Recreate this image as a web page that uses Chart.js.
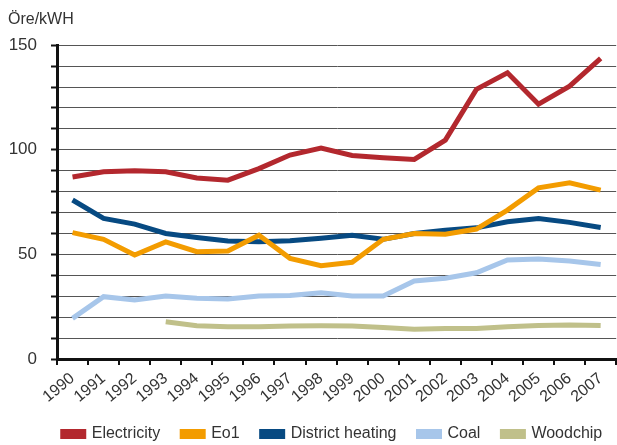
<!DOCTYPE html>
<html>
<head>
<meta charset="utf-8">
<script src="https://cdn.jsdelivr.net/npm/chart.js@4.4.1/dist/chart.umd.min.js"></script>
<style>
  html, body { margin: 0; padding: 0; background: #fff; }
  #wrap { width: 617px; height: 445px; position: relative; }
</style>
</head>
<body>
<div id="wrap"><canvas id="priceChart"></canvas></div>
<script>
const years = ['1990', '1991', '1992', '1993', '1994', '1995', '1996', '1997', '1998',
  '1999', '2000', '2001', '2002', '2003', '2004', '2005', '2006', '2007'];

const electricity = [87, 89.5, 90, 89.5, 86.5, 85.5, 91, 97.5, 100.8, 97.3, 96.2, 95.4, 104.6, 128.9, 136.8, 121.8, 130.4, 143.7];
const eo1 = [60.4, 57.2, 49.7, 56, 51.3, 51.6, 59.2, 48.1, 44.6, 46.2, 57.2, 60, 59.6, 62.1, 71.2, 81.8, 84.2, 80.7];
const districtHeating = [76, 67.2, 64.5, 60, 58.1, 56.4, 56, 56.5, 57.7, 59.2, 57.2, 60, 61.6, 62.7, 65.6, 67.2, 65.3, 62.9];
const coal = [19.4, 29.8, 28.2, 30.1, 29, 28.7, 30.1, 30.3, 31.7, 30.1, 30.1, 37.3, 38.6, 41.2, 47.3, 47.8, 46.8, 45.2];
const woodchip = [null, null, null, 17.8, 15.9, 15.4, 15.4, 15.8, 15.9, 15.8, 15.1, 14.2, 14.6, 14.6, 15.4, 16, 16.3, 16];

const yLabels = [0, 50, 100, 150];

function line(label, data, color) {
  return {
    label,
    data,
    borderColor: color,
    backgroundColor: color,
    borderWidth: 5,
    pointRadius: 0,
    fill: false,
    tension: 0,
    spanGaps: false
  };
}

const font = "'Liberation Sans', Arial, sans-serif";

// the legend in the original sits a little right of centre
const nudgeLegend = {
  id: 'nudgeLegend',
  afterLayout(chart) {
    if (chart.legend) {
      chart.legend.left += 20;
      chart.legend.right += 20;
    }
  }
};

new Chart(document.getElementById('priceChart'), {
  type: 'line',
  data: {
    labels: years,
    datasets: [
      line('Electricity', electricity, '#b3282e'),
      line('Eo1', eo1, '#f39c00'),
      line('District heating', districtHeating, '#074a82'),
      line('Coal', coal, '#a7c6ea'),
      line('Woodchip', woodchip, '#c0c08a')
    ]
  },
  plugins: [nudgeLegend],
  options: {
    responsive: true,
    maintainAspectRatio: false,
    animation: false,
    layout: { padding: { left: 8, right: 0, top: 10, bottom: -7 } },
    plugins: {
      title: {
        display: true,
        text: 'Öre/kWH',
        align: 'start',
        color: '#333',
        font: { family: font, size: 16, weight: 'normal' },
        padding: { top: 0, bottom: 16 }
      },
      legend: {
        position: 'bottom',
        labels: {
          boxWidth: 21,
          boxHeight: 5,
          padding: 22,
          color: '#333',
          font: { family: font, size: 16 }
        }
      },
      tooltip: { enabled: false }
    },
    scales: {
      x: {
        offset: true,
        afterFit: scale => { scale.height = 45; },
        grid: {
          offset: true,
          drawOnChartArea: false,
          drawTicks: true,
          tickLength: 6,
          color: '#111',
          lineWidth: 2
        },
        border: { color: '#111', width: 3 },
        ticks: {
          color: '#333',
          minRotation: 40,
          maxRotation: 40,
          autoSkip: false,
          padding: 4,
          font: { family: font, size: 16 }
        }
      },
      y: {
        min: 0,
        max: 150,
        afterFit: scale => { scale.width = 49; },
        grid: {
          color: '#555',
          lineWidth: 1,
          drawTicks: true,
          tickLength: 6,
          tickColor: '#111',
          tickWidth: 2
        },
        border: { color: '#111', width: 3 },
        ticks: {
          stepSize: 10,
          autoSkip: false,
          padding: 14,
          color: '#333',
          font: { family: font, size: 17 },
          callback: v => yLabels.includes(v) ? String(v) : ''
        }
      }
    }
  }
});
</script>
</body>
</html>
